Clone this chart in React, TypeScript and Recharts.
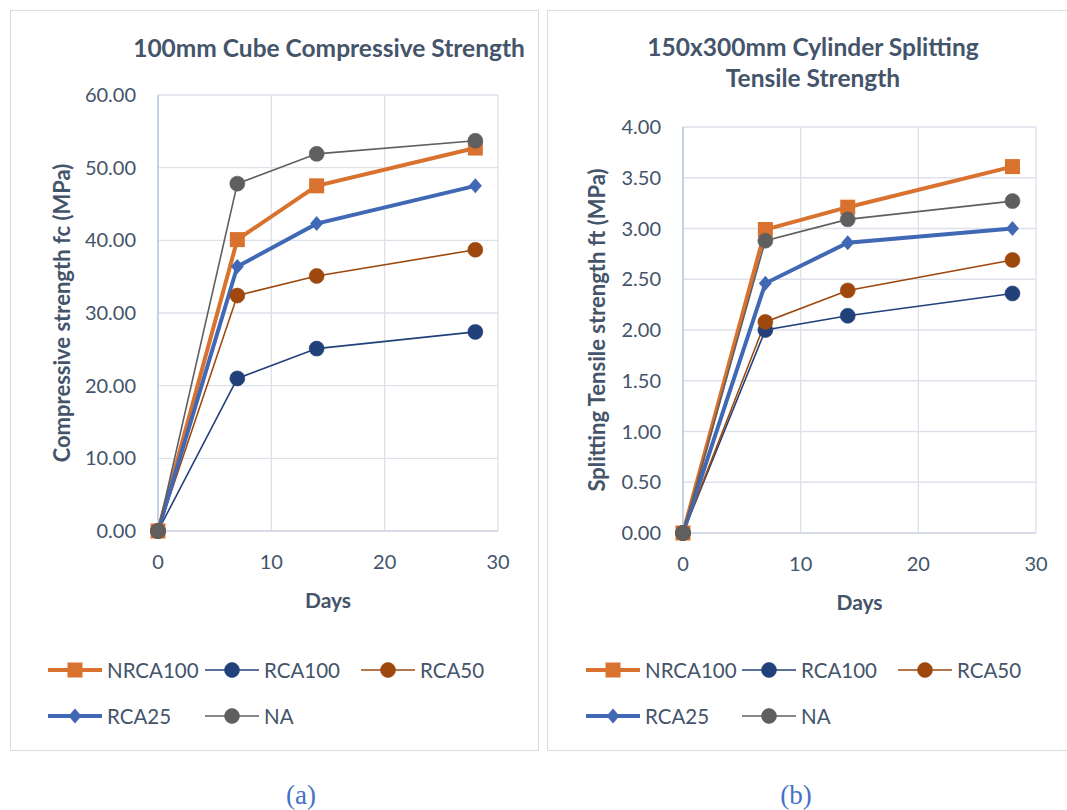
import React from 'react';
import { LineChart, Line, XAxis, YAxis, CartesianGrid } from 'recharts';

const days = [0, 7, 14, 28];
const seriesNames = ['NRCA100', 'RCA100', 'RCA50', 'RCA25', 'NA'];

// 100mm cube compressive strength (MPa)
const nrca100Fc = [0, 40.1, 47.5, 52.7];
const rca100Fc = [0, 21.0, 25.1, 27.4];
const rca50Fc = [0, 32.4, 35.1, 38.7];
const rca25Fc = [0, 36.4, 42.3, 47.5];
const naFc = [0, 47.8, 51.9, 53.7];

// 150x300mm cylinder splitting tensile strength (MPa)
const nrca100Ft = [0, 2.99, 3.21, 3.61];
const rca100Ft = [0, 2.0, 2.14, 2.36];
const rca50Ft = [0, 2.08, 2.39, 2.69];
const rca25Ft = [0, 2.46, 2.86, 3.0];
const naFt = [0, 2.88, 3.09, 3.27];

const xTicks = [0, 10, 20, 30];
const fcTicks = [0, 10, 20, 30, 40, 50, 60];
const ftTicks = [0, 0.5, 1, 1.5, 2, 2.5, 3, 3.5, 4];

const TEXT = '#44546A';
const FONT = 'Lato, "Open Sans", sans-serif';

type Shape = 'square' | 'circle' | 'diamond';
interface SeriesStyle {
  color: string;
  width: number;
  shape: Shape;
}

const styles: Record<string, SeriesStyle> = {
  NRCA100: { color: '#D9722E', width: 4, shape: 'square' },
  RCA100: { color: '#22407A', width: 1.6, shape: 'circle' },
  RCA50: { color: '#9E480E', width: 1.6, shape: 'circle' },
  RCA25: { color: '#4068B4', width: 4, shape: 'diamond' },
  NA: { color: '#5F5F5F', width: 1.6, shape: 'circle' },
};

const buildRows = (cols: number[][]) =>
  days.map((d, i) => {
    const row: Record<string, number> = { day: d };
    seriesNames.forEach((name, j) => {
      row[name] = cols[j][i];
    });
    return row;
  });

const fcData = buildRows([nrca100Fc, rca100Fc, rca50Fc, rca25Fc, naFc]);
const ftData = buildRows([nrca100Ft, rca100Ft, rca50Ft, rca25Ft, naFt]);

const Marker = ({ cx, cy, shape, color }: { cx: number; cy: number; shape: Shape; color: string }) => {
  if (shape === 'square') {
    return <rect x={cx - 7.5} y={cy - 7.5} width={15} height={15} fill={color} />;
  }
  if (shape === 'diamond') {
    return (
      <polygon
        points={`${cx},${cy - 7.5} ${cx + 6.5},${cy} ${cx},${cy + 7.5} ${cx - 6.5},${cy}`}
        fill={color}
      />
    );
  }
  return <circle cx={cx} cy={cy} r={7.5} fill={color} stroke={color} strokeOpacity={0.6} strokeWidth={1} />;
};

const makeDot = (name: string) => (props: any) => {
  const { cx, cy, index } = props;
  const s = styles[name];
  return <Marker key={`${name}-${index}`} cx={cx} cy={cy} shape={s.shape} color={s.color} />;
};

const LegendIcon = ({ name }: { name: string }) => {
  const s = styles[name];
  return (
    <svg width={54} height={20} style={{ display: 'block' }}>
      <line x1={0} y1={10} x2={54} y2={10} stroke={s.color} strokeWidth={s.width} />
      <Marker cx={27} cy={10} shape={s.shape} color={s.color} />
    </svg>
  );
};

// legend item positions (page coordinates)
const LegendBlock = ({ items }: { items: { name: string; x: number; y: number }[] }) => (
  <>
    {items.map(({ name, x, y }) => (
      <div
        key={name}
        style={{ position: 'absolute', left: x, top: y - 12, height: 24, display: 'flex', alignItems: 'center' }}
      >
        <LegendIcon name={name} />
        <span style={{ marginLeft: 5, fontSize: 20.5, color: TEXT, fontFamily: FONT }}>{name}</span>
      </div>
    ))}
  </>
);

interface PanelProps {
  data: Record<string, number>[];
  yTicks: number[];
  yMax: number;
  yLabel: string;
  left: number;
  width: number;
  plotTop: number;
  plotLeft: number;
  plotRight: number;
  plotBottom: number;
  yLabelX: number;
}

const Panel = (p: PanelProps) => {
  const height = 620;
  return (
    <div style={{ position: 'absolute', left: p.left, top: 0 }}>
      <LineChart
        width={p.width}
        height={height}
        data={p.data}
        margin={{ top: p.plotTop, right: p.width - p.plotRight, bottom: 0, left: 0 }}
      >
        <CartesianGrid stroke="#DCE1EA" strokeWidth={1.3} />
        <XAxis
          type="number"
          dataKey="day"
          domain={[0, 30]}
          ticks={xTicks}
          height={height - p.plotBottom}
          tickSize={0}
          tickMargin={24}
          axisLine={{ stroke: '#D0D7E4', strokeWidth: 1.3 }}
          tick={{ fontSize: 20, fill: TEXT, fontFamily: FONT }}
          label={{
            value: 'Days',
            position: 'insideTop',
            offset: 62,
            fill: TEXT,
            fontSize: 21,
            fontWeight: 700,
            fontFamily: FONT,
          }}
        />
        <YAxis
          domain={[0, p.yMax]}
          ticks={p.yTicks}
          width={p.plotLeft}
          tickSize={0}
          tickMargin={22}
          interval={0}
          tickFormatter={(v: number) => v.toFixed(2)}
          axisLine={{ stroke: '#B4C3DD', strokeWidth: 1.3 }}
          tick={{ fontSize: 20, fill: TEXT, fontFamily: FONT }}
          label={{
            value: p.yLabel,
            angle: -90,
            position: 'insideLeft',
            offset: p.yLabelX,
            fill: TEXT,
            fontSize: 22,
            fontWeight: 700,
            fontFamily: FONT,
            style: { textAnchor: 'middle' },
          }}
        />
        {seriesNames.map((name) => (
          <Line
            key={name}
            type="linear"
            dataKey={name}
            stroke={styles[name].color}
            strokeWidth={styles[name].width}
            dot={makeDot(name)}
            activeDot={false}
            isAnimationActive={false}
          />
        ))}
      </LineChart>
    </div>
  );
};

export default function App() {
  const border = '1.5px solid #D9DDE3';
  const captionStyle: React.CSSProperties = {
    position: 'absolute', top: 777, width: 100, textAlign: 'center',
    fontFamily: '"Liberation Serif", "DejaVu Serif", serif', fontSize: 27, color: '#4472C4', lineHeight: '36px',
  };
  return (
    <div style={{ position: 'absolute', left: 0, top: 0, width: 1067, height: 810, background: '#fff', fontFamily: FONT }}>
      <div style={{ position: 'absolute', left: 10, top: 10, width: 527, height: 739, border }} />
      <div style={{ position: 'absolute', left: 547, top: 10, width: 540, height: 739, border }} />

      <div
        style={{
          position: 'absolute', left: 129, top: 33, width: 400, textAlign: 'center',
          fontSize: 24.5, fontWeight: 700, color: TEXT, lineHeight: '30px', whiteSpace: 'nowrap',
        }}
      >
        100mm Cube Compressive Strength
      </div>
      <div
        style={{
          position: 'absolute', left: 613, top: 31, width: 400, textAlign: 'center',
          fontSize: 24.5, fontWeight: 700, color: TEXT, lineHeight: '31px', whiteSpace: 'nowrap',
        }}
      >
        150x300mm Cylinder Splitting
        <br />
        Tensile Strength
      </div>

      <Panel
        data={fcData}
        yTicks={fcTicks}
        yMax={60}
        yLabel="Compressive strength fc (MPa)"
        left={0}
        width={540}
        plotTop={95}
        plotLeft={158}
        plotRight={498}
        plotBottom={531}
        yLabelX={62}
      />
      <Panel
        data={ftData}
        yTicks={ftTicks}
        yMax={4}
        yLabel="Splitting Tensile strength ft (MPa)"
        left={545}
        width={515}
        plotTop={127}
        plotLeft={138}
        plotRight={491}
        plotBottom={533}
        yLabelX={52}
      />

      <LegendBlock
        items={[
          { name: 'NRCA100', x: 48, y: 670 },
          { name: 'RCA100', x: 205, y: 670 },
          { name: 'RCA50', x: 361, y: 670 },
          { name: 'RCA25', x: 48, y: 716 },
          { name: 'NA', x: 205, y: 716 },
        ]}
      />
      <LegendBlock
        items={[
          { name: 'NRCA100', x: 586, y: 670 },
          { name: 'RCA100', x: 742, y: 670 },
          { name: 'RCA50', x: 898, y: 670 },
          { name: 'RCA25', x: 586, y: 716 },
          { name: 'NA', x: 742, y: 716 },
        ]}
      />

      <div style={{ ...captionStyle, left: 251 }}>(a)</div>
      <div style={{ ...captionStyle, left: 746 }}>(b)</div>
    </div>
  );
}
